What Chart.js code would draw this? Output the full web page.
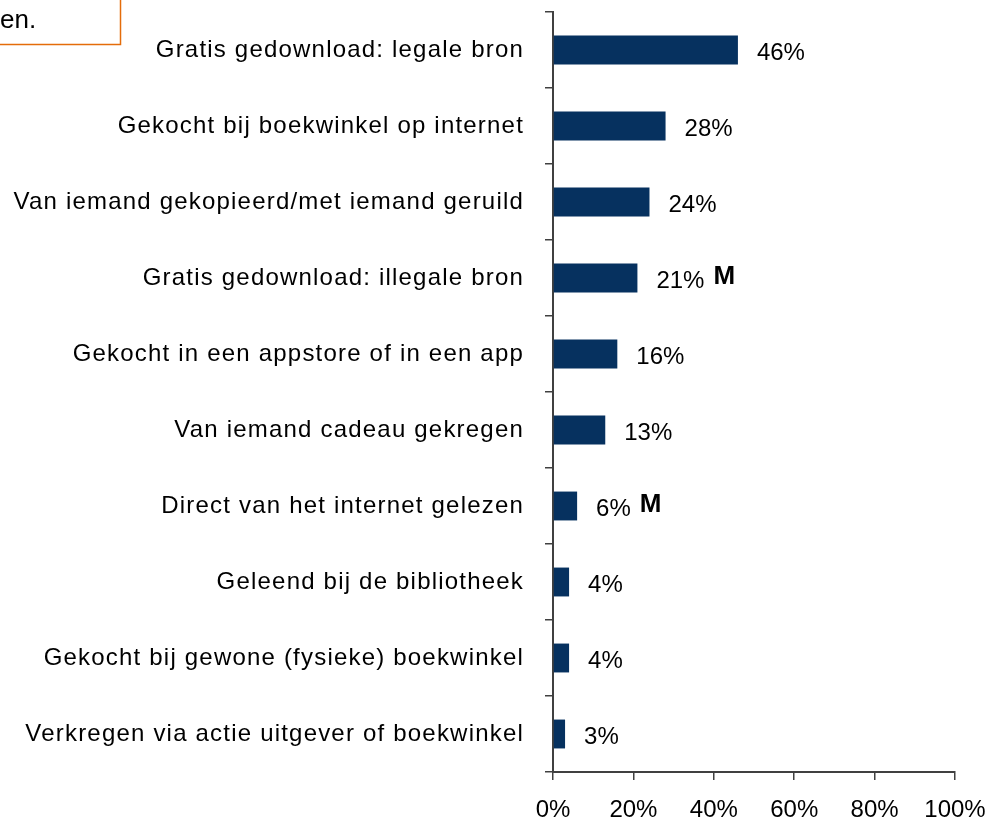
<!DOCTYPE html>
<html>
<head>
<meta charset="utf-8">
<title>Manier van verkrijgen e-books</title>
<script src="https://cdn.jsdelivr.net/npm/chart.js@4/dist/chart.umd.min.js"></script>
<style>
  html, body { margin: 0; padding: 0; background: #ffffff; }
  canvas { display: block; }
</style>
</head>
<body>
<canvas id="chart" width="991" height="819"></canvas>
<script>
// Categories, top to bottom
const categories = [
    'Gratis gedownload: legale bron',
    'Gekocht bij boekwinkel op internet',
    'Van iemand gekopieerd/met iemand geruild',
    'Gratis gedownload: illegale bron',
    'Gekocht in een appstore of in een app',
    'Van iemand cadeau gekregen',
    'Direct van het internet gelezen',
    'Geleend bij de bibliotheek',
    'Gekocht bij gewone (fysieke) boekwinkel',
    'Verkregen via actie uitgever of boekwinkel'
];

// Share of respondents (%)
const values = [46, 28, 24, 21, 16, 13, 6, 4, 4, 3];

// Significance markers printed after some value labels
const markers = ['', '', '', 'M', '', '', 'M', '', '', ''];

// X axis ticks
const xTicks = [0, 20, 40, 60, 80, 100];

const FONT = 'Liberation Sans, Arial, sans-serif';
const FONT_SIZE = 24;
const BAR_COLOR = '#06315f';
const AXIS_COLOR = '#404040';

// Keep the scales from reserving room for half labels at their ends
function noEdgePadding(scale) {
    scale.paddingTop = 0;
    scale.paddingBottom = 0;
    scale.paddingLeft = 0;
    scale.paddingRight = 0;
}

// Category labels are drawn with wider letter spacing than the numbers
const labelSpacing = {
    id: 'labelSpacing',
    beforeDraw(chart) {
        const y = chart.scales.y;
        if (y._spaced) return;
        const draw = y.drawLabels.bind(y);
        y.drawLabels = (area) => {
            const ctx = chart.ctx;
            ctx.save();
            ctx.letterSpacing = '1.2px';
            draw(area);
            ctx.restore();
        };
        y._spaced = true;
    }
};

// Value labels and "M" markers to the right of each bar
const valueLabels = {
    id: 'valueLabels',
    afterDatasetsDraw(chart) {
        const ctx = chart.ctx;
        const meta = chart.getDatasetMeta(0);
        ctx.save();
        ctx.fillStyle = '#000000';
        ctx.textAlign = 'left';
        ctx.textBaseline = 'middle';
        meta.data.forEach((bar, i) => {
            const label = values[i] + '%';
            const x = bar.x + 19;
            ctx.font = `${FONT_SIZE}px ${FONT}`;
            ctx.fillText(label, x, bar.y + 3);
            if (markers[i]) {
                const w = ctx.measureText(label).width;
                ctx.font = `bold 26px ${FONT}`;
                ctx.fillText(markers[i], x + w + 9, bar.y - 1);
            }
        });
        ctx.restore();
    }
};

// Text box partly outside the top-left corner
const cornerNote = {
    id: 'cornerNote',
    afterDraw(chart) {
        const ctx = chart.ctx;
        ctx.save();
        ctx.strokeStyle = '#e46c0a';
        ctx.lineWidth = 1.5;
        ctx.strokeRect(-10, -10, 130.5, 54.5);
        ctx.fillStyle = '#000000';
        ctx.font = `26px ${FONT}`;
        ctx.textBaseline = 'alphabetic';
        ctx.fillText('en.', 0, 28);
        ctx.restore();
    }
};

new Chart(document.getElementById('chart'), {
    type: 'bar',
    data: {
        labels: categories,
        datasets: [{
            data: values,
            backgroundColor: BAR_COLOR,
            borderWidth: 0,
            barPercentage: 0.38,
            categoryPercentage: 1
        }]
    },
    options: {
        indexAxis: 'y',
        responsive: false,
        animation: false,
        layout: {
            autoPadding: false,
            padding: { top: 12, right: 36, left: 0, bottom: 0 }
        },
        scales: {
            x: {
                min: 0,
                max: 100,
                afterFit(scale) {
                    scale.height = 47;
                    noEdgePadding(scale);
                },
                afterBuildTicks(scale) {
                    scale.ticks = xTicks.map(v => ({ value: v }));
                },
                grid: {
                    drawOnChartArea: false,
                    drawTicks: true,
                    tickLength: 8,
                    color: AXIS_COLOR,
                    lineWidth: 1.5
                },
                border: { display: true, color: AXIS_COLOR, width: 2 },
                ticks: {
                    color: '#000000',
                    font: { family: FONT, size: FONT_SIZE },
                    padding: 16,
                    maxRotation: 0,
                    callback: v => v + '%'
                }
            },
            y: {
                afterFit(scale) {
                    scale.width = 553;
                    noEdgePadding(scale);
                },
                grid: {
                    offset: true,
                    drawOnChartArea: false,
                    drawTicks: true,
                    tickLength: 8,
                    color: AXIS_COLOR,
                    lineWidth: 1.5
                },
                border: { display: true, color: AXIS_COLOR, width: 2 },
                ticks: {
                    color: '#000000',
                    font: { family: FONT, size: FONT_SIZE },
                    padding: 21,
                    autoSkip: false
                }
            }
        },
        plugins: {
            legend: { display: false },
            title: { display: false },
            tooltip: { enabled: false }
        }
    },
    plugins: [labelSpacing, valueLabels, cornerNote]
});
</script>
</body>
</html>
